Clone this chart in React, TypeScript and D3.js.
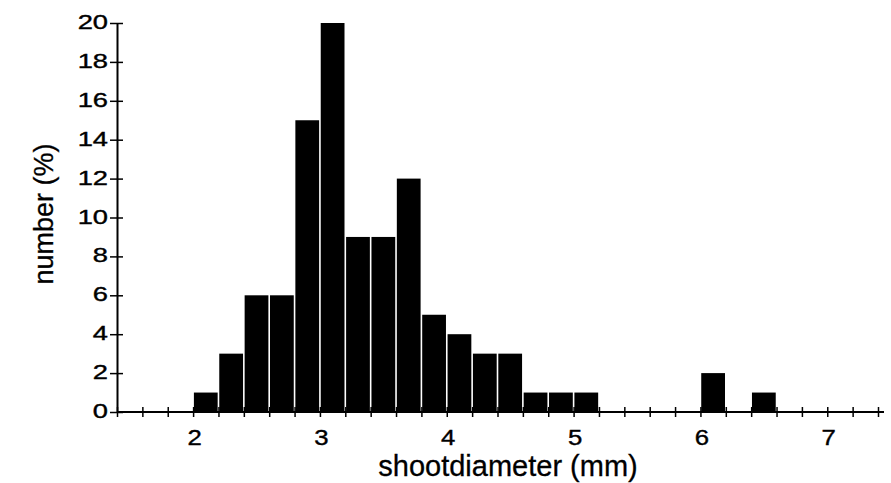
import React, { useRef, useEffect } from 'react';
import * as d3 from 'd3';

// histogram bins (lower edge, mm) and share of shoots (%)
const binStarts = [2.0, 2.2, 2.4, 2.6, 2.8, 3.0, 3.2, 3.4, 3.6, 3.8, 4.0, 4.2, 4.4, 4.6, 4.8, 5.0, 6.0, 6.4];
const percents = [1, 3, 6, 6, 15, 20, 9, 9, 12, 5, 4, 3, 3, 1, 1, 1, 2, 1];
const binWidth = 0.2;

const xLabels = [2, 3, 4, 5, 6, 7];
const yLabels = [0, 2, 4, 6, 8, 10, 12, 14, 16, 18, 20];

const width = 891;
const height = 483;
const font = '"Liberation Sans", Arial, Helvetica, sans-serif';

const App = () => {
  const ref = useRef<SVGSVGElement>(null);

  useEffect(() => {
    const svg = d3.select(ref.current);
    svg.selectAll('*').remove();

    const x = d3.scaleLinear().domain([1.4, 7.4]).range([117, 878]);
    const y = d3.scaleLinear().domain([0, 20]).range([412, 23]);

    // bars
    svg.append('g')
      .selectAll('rect')
      .data(binStarts)
      .join('rect')
      .attr('x', (d) => x(d) + 0.8)
      .attr('width', (d) => x(d + binWidth) - x(d) - 1.6)
      .attr('y', (d, i) => y(percents[i]))
      .attr('height', (d, i) => y(0) - y(percents[i]))
      .attr('fill', '#000');

    // x axis: minor ticks every 0.2, labels on whole mm
    const minor = d3.range(14, 75, 2).map((v) => v / 10);
    const xAxis = svg.append('g')
      .attr('transform', `translate(0,${y(0)})`)
      .call(d3.axisBottom(x).tickValues(minor).tickSize(5).tickSizeOuter(0)
        .tickFormat((d) => (xLabels.includes(+d) ? String(d) : '')));
    xAxis.select('.domain').attr('d', `M${x(1.4)},0H884`).attr('stroke', '#000').attr('stroke-width', 2);
    xAxis.selectAll('.tick line').attr('y1', -5).attr('y2', 5).attr('stroke-width', 1.5);
    xAxis.selectAll('.tick text')
      .attr('y', 0).attr('dy', null)
      .attr('transform', 'translate(1,33) scale(1.12,1)')
      .attr('font-family', font).attr('font-size', 23).attr('fill', '#000')
      .attr('stroke', '#000').attr('stroke-width', 0.4);

    // y axis
    const yAxis = svg.append('g')
      .attr('transform', `translate(${x(1.4)},0)`)
      .call(d3.axisLeft(y).tickValues(yLabels).tickSize(6).tickSizeOuter(0));
    yAxis.select('.domain').attr('stroke', '#000').attr('stroke-width', 2);
    yAxis.selectAll('.tick line').attr('x1', -7).attr('x2', 6).attr('stroke-width', 1.5);
    yAxis.selectAll('.tick text')
      .attr('x', 0).attr('dy', null)
      .attr('transform', 'translate(-9,5.5) scale(1.3,1)')
      .attr('font-family', font).attr('font-size', 21).attr('fill', '#000')
      .attr('stroke', '#000').attr('stroke-width', 0.4);

    // axis titles
    svg.append('text')
      .attr('x', 508).attr('y', 476)
      .attr('text-anchor', 'middle')
      .attr('font-family', font).attr('font-size', 29)
      .attr('stroke', '#000').attr('stroke-width', 0.3)
      .text('shootdiameter (mm)');

    svg.append('text')
      .attr('transform', 'translate(53,214) rotate(-90)')
      .attr('text-anchor', 'middle')
      .attr('font-family', font).attr('font-size', 27)
      .attr('stroke', '#000').attr('stroke-width', 0.3)
      .text('number (%)');
  }, []);

  return (
    <svg ref={ref} width={width} height={height}
      style={{ position: 'absolute', left: 0, top: 0, background: '#fff' }} />
  );
};

export default App;
